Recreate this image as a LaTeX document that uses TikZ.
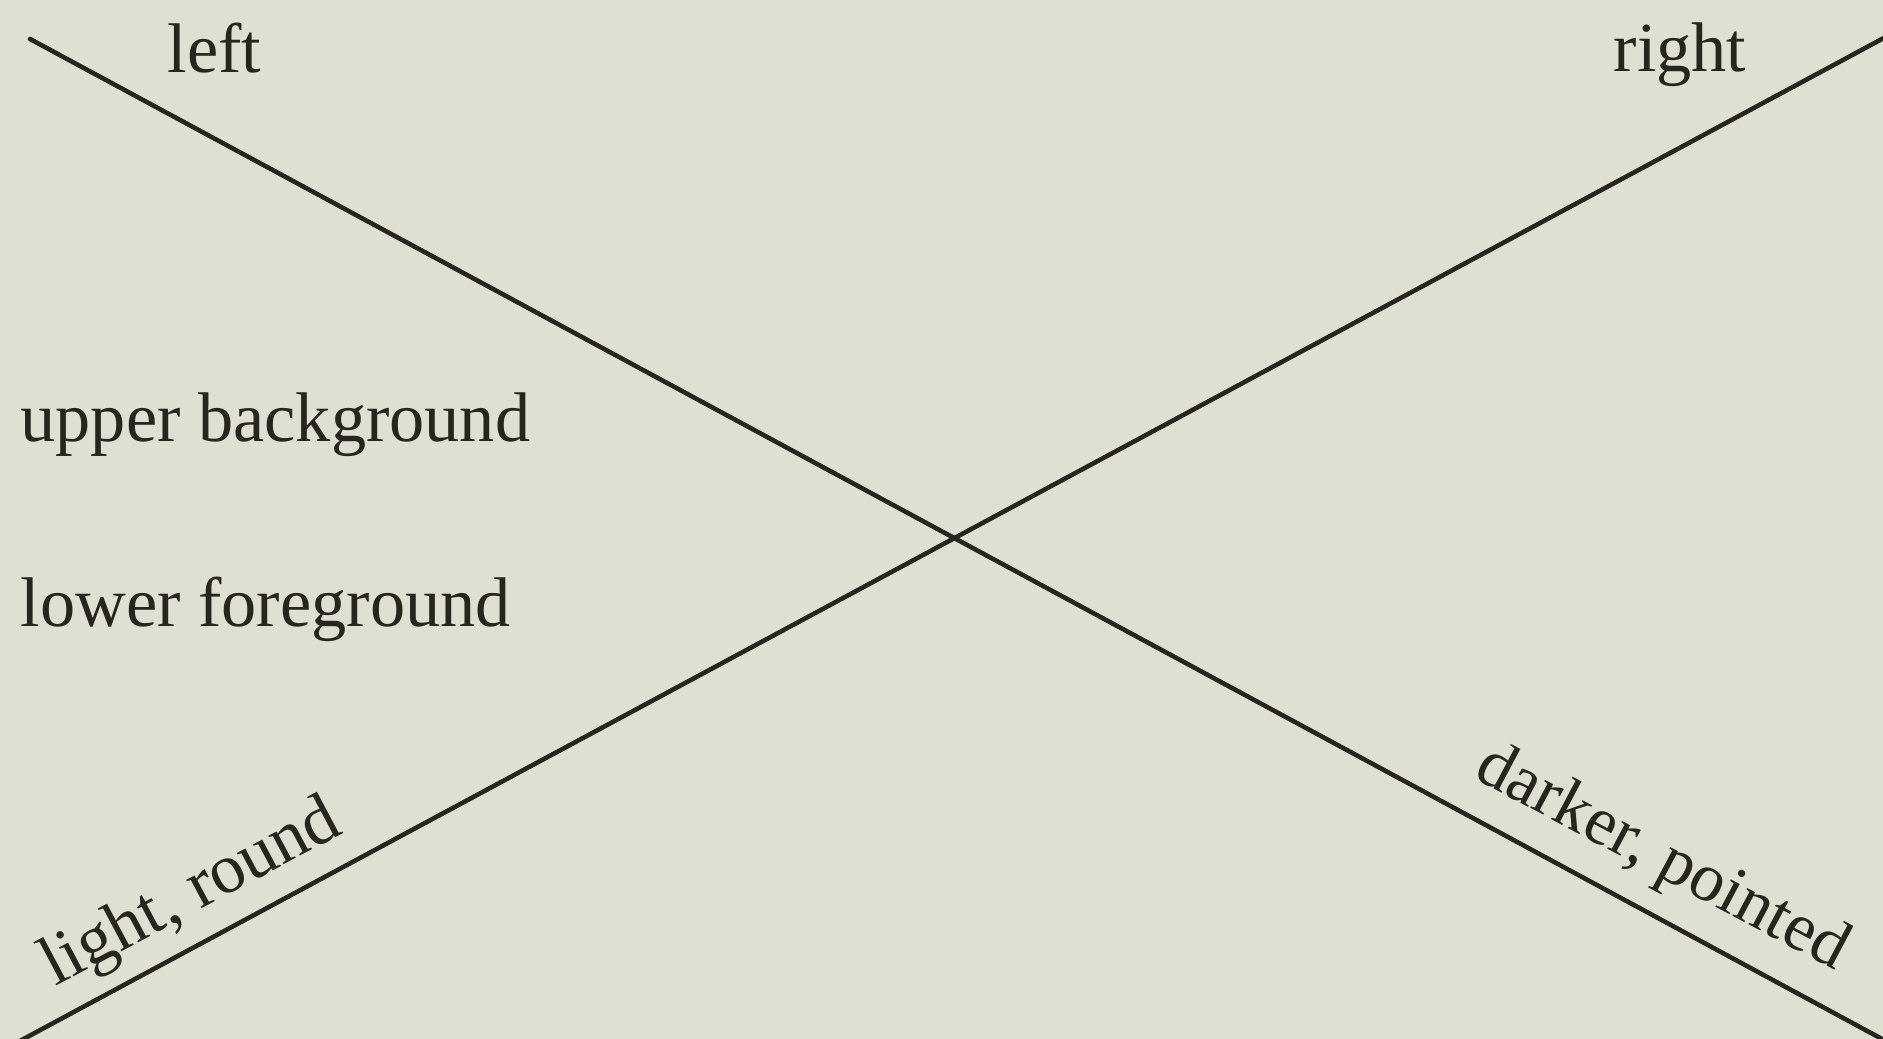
\documentclass[tikz,border=0pt]{standalone}
\usepackage{fontspec}
\setmainfont{Liberation Serif}
\usepackage{xcolor}
\definecolor{paper}{HTML}{DDE0D3}
\definecolor{ink}{HTML}{26261F}
\begin{document}
\begin{tikzpicture}[x=0.1mm,y=-0.1mm,
  lbl/.style={inner sep=0pt,text=ink,font=\fontsize{20}{23}\selectfont},
  xline/.style={draw=ink,line width=1.3pt,line cap=round}]
\fill[paper] (0,0) rectangle (1883,1039);
\useasboundingbox (0,0) rectangle (1883,1039);
\clip (0,0) rectangle (1883,1039);
\coordinate (a1) at (30,39);
\coordinate (a2) at (1895,1046);
\coordinate (b1) at (5,1049);
\coordinate (b2) at (1895,32);
\draw[xline] (a1) -- (a2);
\draw[xline] (b1) -- (b2);
\node[lbl,anchor=base west] (left) at (167,73) {left};
\node[lbl,anchor=base west] (right) at (1613,72) {right};
\node[lbl,anchor=base west] (upper) at (20,442) {upper background};
\node[lbl,anchor=base west] (lower) at (20,627) {lower foreground};
\node[lbl,anchor=base,rotate=28] (light) at (200,910) {light, round};
\node[lbl,anchor=base,rotate=-28,font=\fontsize{19.5}{23}\selectfont] (dark) at (1654,874) {darker, pointed};
\end{tikzpicture}
\end{document}
